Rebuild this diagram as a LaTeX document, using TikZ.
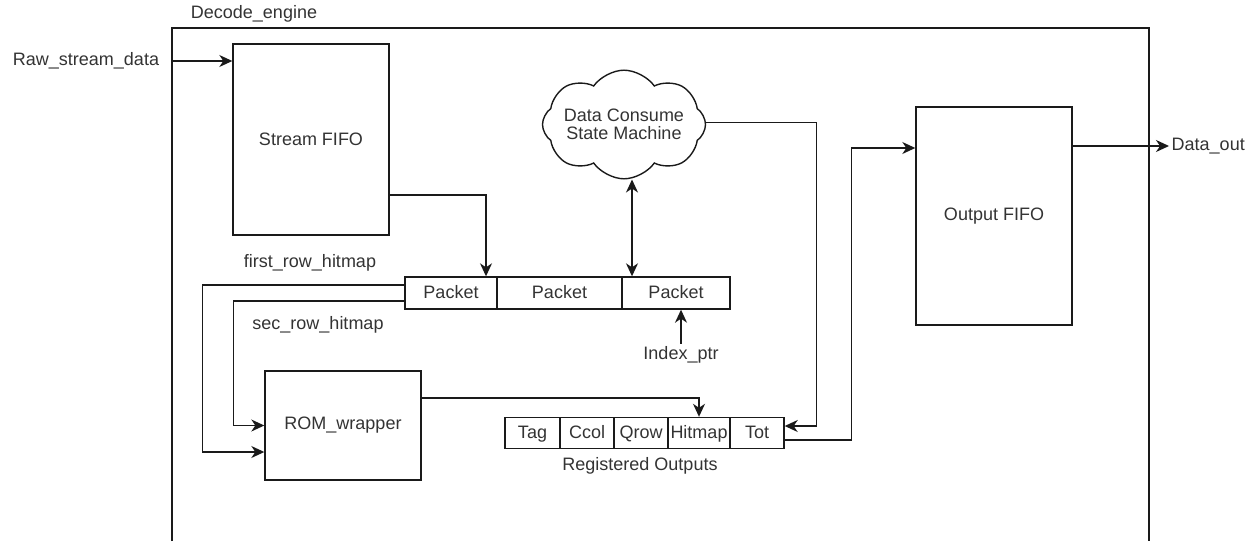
\documentclass[tikz,border=0pt]{standalone}
\usepackage{fontspec}
\setmainfont{Liberation Sans}
\usepackage{tikz}
\usetikzlibrary{arrows.meta,shapes.symbols}
\definecolor{txtgray}{HTML}{333333}
\definecolor{linegray}{HTML}{1A1A1A}

\begin{document}
\begin{tikzpicture}[x=1pt,y=-1pt,>={Stealth[length=13pt,width=12pt,inset=4pt]},
                    line width=1.4pt,draw=linegray,
                    font=\fontsize{18}{21}\selectfont,text=txtgray,
                    blk/.style={draw,rectangle,inner sep=0pt},
                    cell/.style={blk,minimum height=32pt,text height=13pt,text depth=3pt},
                    lbl/.style={inner sep=2pt}]

  \useasboundingbox (0,0) rectangle (1260,541);

  	\draw (172,541) |- (1149,28) -- (1149,541);
  	\node[lbl] (engine) at (254,14) {Decode\_engine};

  	\node[blk,minimum width=156pt,minimum height=191pt] (sfifo) at (311,139.5) {Stream FIFO};
  	\node[blk,minimum width=156pt,minimum height=218pt] (ofifo) at (994,216) {Output FIFO};
  	\node[blk,minimum width=156pt,minimum height=109pt] (rom)   at (343,425.5) {ROM\_wrapper};
  	\node[draw,cloud,cloud puffs=8,cloud puff arc=110,aspect=1.9,inner xsep=-4pt,inner ysep=-9pt,
  	      align=center] (fsm) at (624,124.5)
  	      {Data Consume\\[-3pt]State Machine};

  	\node[cell,minimum width=92pt]  (pkta) at (451,293)   {Packet};
  	\node[cell,minimum width=125pt] (pktb) at (559.5,293) {Packet};
  	\node[cell,minimum width=108pt] (pktc) at (676,293)   {Packet};

  	\node[cell,minimum width=55pt,minimum height=31pt] (tag)    at (532.5,433) {Tag};
  	\node[cell,minimum width=54pt,minimum height=31pt] (ccol)   at (587,433)   {Ccol};
  	\node[cell,minimum width=54pt,minimum height=31pt] (qrow)   at (641,433)   {Qrow};
  	\node[cell,minimum width=62pt,minimum height=31pt] (hitmap) at (699,433)   {Hitmap};
  	\node[cell,minimum width=54pt,minimum height=31pt] (tot)    at (757,433)   {Tot};

  	\node[lbl] (raw)   at (86,61)   {Raw\_stream\_data};
  	\node[lbl,anchor=west] (dout) at (1169,146) {Data\_out};
  	\node[lbl] (first) at (310,263) {first\_row\_hitmap};
  	\node[lbl] (sec)   at (318,325) {sec\_row\_hitmap};
  	\node[lbl] (idx)   at (681,355) {Index\_ptr};
  	\node[lbl] (regs)  at (640,466) {Registered Outputs};
  	\coordinate (rawin) at (172,61);

  	\draw[->] (rawin) -- (rawin -| sfifo.west);
  	\draw[->] ([yshift=-55.5pt]sfifo.east) -| ([xshift=35pt]pkta.north);
  	\draw[<->] ([xshift=-44pt]pktc.north) -- ([xshift=-44pt]pktc.north |- fsm.south);
  	\draw[->] ([yshift=2pt]fsm.east) -- ++(110,0) |- ([yshift=7pt]tot.east);
  	\draw[->] (idx.north) -- (idx.north |- pktc.south);
  	\draw[->] ([yshift=-7pt]tot.east) -- ++(67,0) |- ([yshift=68pt]ofifo.west);
  	\draw[->] ([yshift=70pt]ofifo.east) -- (dout.west);
  	\draw[->] ([yshift=27.5pt]rom.east) -| (hitmap.north);
  	\draw[->] ([yshift=8pt]pkta.west) -- ++(-202,0) |- ([yshift=-26.5pt]rom.west);
  	\draw[->] ([yshift=-8pt]pkta.west) -- ++(-171,0) |- (rom.west);

\end{tikzpicture}
\end{document}
